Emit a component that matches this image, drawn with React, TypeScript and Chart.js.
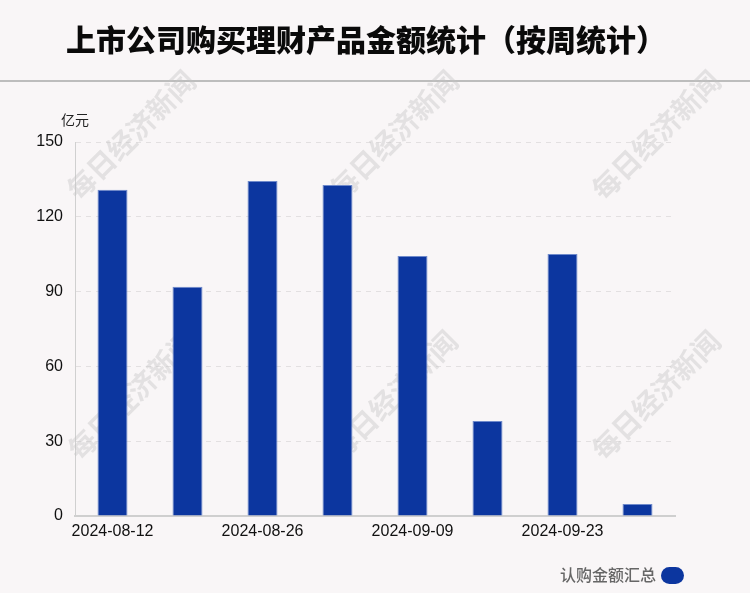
import React, { useEffect, useRef } from "react";
import { Chart, registerables } from "chart.js";

Chart.register(...registerables);

const TITLE = "上市公司购买理财产品金额统计（按周统计）";
const UNIT = "亿元";
const SERIES_NAME = "认购金额汇总";
const WATERMARK = "每日经济新闻";
const weeks = [
  "2024-08-12",
  "2024-08-19",
  "2024-08-26",
  "2024-09-02",
  "2024-09-09",
  "2024-09-16",
  "2024-09-23",
  "2024-09-30",
];
const amounts = [130.8, 91.9, 134.4, 132.8, 104.3, 38.1, 105.1, 4.8];
const yTicks = [0, 30, 60, 90, 120, 150];

const BG = "#f9f6f7";
const BAR = "#0c369f";
const CJK = '"Noto Sans CJK SC", "Liberation Sans", sans-serif';
const LAT = '"Liberation Sans", Arial, sans-serif';

const decorPlugin = {
  id: "decor",
  beforeDraw(chart: any) {
    const { ctx, width } = chart;
    ctx.save();
    ctx.fillStyle = BG;
    ctx.fillRect(0, 0, chart.width, chart.height);
    // title
    ctx.fillStyle = "#0a0a0a";
    ctx.font = `900 30px ${CJK}`;
    ctx.textAlign = "center";
    ctx.textBaseline = "middle";
    ctx.fillText(TITLE, 366, 40);
    // separator
    ctx.strokeStyle = "#bdbdbd";
    ctx.lineWidth = 2;
    ctx.beginPath();
    ctx.moveTo(0, 81);
    ctx.lineTo(width, 81);
    ctx.stroke();
    // unit
    ctx.fillStyle = "#222";
    ctx.font = `14px ${CJK}`;
    ctx.textAlign = "left";
    ctx.fillText(UNIT, 61, 120);
    // legend
    ctx.font = `500 16px ${CJK}`;
    ctx.fillStyle = "#666";
    ctx.textAlign = "right";
    ctx.fillText(SERIES_NAME, 656, 575);
    ctx.fillStyle = BAR;
    ctx.beginPath();
    (ctx as any).roundRect(661, 567, 23, 17, 8.5);
    ctx.fill();
    ctx.restore();
  },
  beforeDatasetsDraw(chart: any) {
    const { ctx } = chart;
    const centers = [
      [131, 135],
      [394, 135],
      [656, 135],
      [132, 395],
      [393, 395],
      [656, 395],
    ];
    ctx.save();
    ctx.font = `bold 28px ${CJK}`;
    ctx.fillStyle = "rgba(195,195,195,0.4)";
    ctx.textAlign = "center";
    ctx.textBaseline = "middle";
    for (const [x, y] of centers) {
      ctx.save();
      ctx.translate(x, y);
      ctx.rotate(-Math.PI / 4);
      ctx.fillText(WATERMARK, 0, 0);
      ctx.restore();
    }
    ctx.restore();
  },
};

export default function App() {
  const ref = useRef<HTMLCanvasElement | null>(null);
  useEffect(() => {
    document.body.style.margin = "0";
    if (!ref.current) return;
    const chart = new Chart(ref.current, {
      type: "bar",
      data: {
        labels: weeks,
        datasets: [
          {
            label: SERIES_NAME,
            data: amounts,
            backgroundColor: BAR,
            borderColor: "#6f8acb",
            borderWidth: 1,
            barPercentage: 0.5,
            categoryPercentage: 0.8,
          },
        ],
      },
      options: {
        responsive: false,
        animation: false,
        layout: { padding: { left: 0, right: 75, top: 142, bottom: 0 } },
        plugins: {
          legend: { display: false },
          title: { display: false },
          tooltip: { enabled: false },
        },
        scales: {
          x: {
            grid: { display: false },
            border: { display: true, color: "#cfcfcf", width: 2 },
            ticks: {
              autoSkip: false,
              maxRotation: 0,
              minRotation: 0,
              padding: -2,
              color: "#111",
              font: { family: LAT, size: 16 },
              callback: (_v: any, i: number) => (i % 2 === 0 ? weeks[i] : ""),
            },
            afterFit: (s: any) => {
              s.height = 77;
            },
          },
          y: {
            min: 0,
            max: 150,
            afterBuildTicks: (s: any) => {
              s.ticks = yTicks.map((v) => ({ value: v }));
            },
            grid: { color: "#e3e0e1", lineWidth: 1, drawTicks: false },
            border: { display: true, color: "#d0d0d0", width: 1, dash: [5, 5] },
            ticks: {
              padding: 12,
              color: "#111",
              font: { family: LAT, size: 16 },
            },
            afterFit: (s: any) => {
              s.width = 75;
            },
          },
        },
      },
      plugins: [decorPlugin],
    });
    return () => chart.destroy();
  }, []);
  return (
    <div style={{ width: 750, height: 593 }}>
      <canvas ref={ref} width={750} height={593} style={{ display: "block" }} />
    </div>
  );
}
